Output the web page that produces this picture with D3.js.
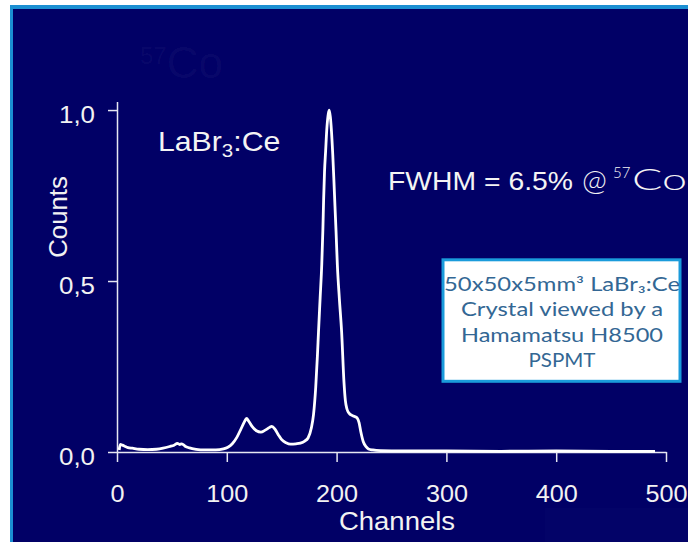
<!DOCTYPE html>
<html>
<head>
<meta charset="utf-8">
<script src="https://cdn.jsdelivr.net/npm/d3@7"></script>
<style>
  html, body { margin: 0; padding: 0; background: #ffffff; }
  svg { display: block; }
</style>
</head>
<body>
<div id="chart"></div>
<script>
// spectrum (channel, normalised counts)
var channels = [2, 3, 5, 7, 10, 14, 20, 28, 36, 42, 48, 52, 55, 57, 59, 62, 66, 72, 80, 90,
    97, 101, 105, 109, 113, 116, 118, 120, 123, 127, 131, 135, 139, 141, 144, 147, 150, 154, 158, 163,
    167, 171, 174, 177, 179, 181, 182.5, 183.5, 185, 186.5, 187.5, 188.2, 189, 190, 191, 192.5, 193.3, 194.3, 195.3, 196.5,
    197.6, 198.5, 199.5, 200.7, 202.5, 204.6, 206.7, 208, 209.5, 211.5, 214, 217, 219, 220.5, 222, 224.3, 227, 229, 233, 240,
    260, 300, 350, 400, 450, 490];
var counts = [0.006, 0.022, 0.02, 0.017, 0.013, 0.011, 0.008, 0.007, 0.008, 0.011, 0.016, 0.02, 0.025, 0.022, 0.024, 0.017, 0.012, 0.008, 0.006, 0.006,
    0.009, 0.014, 0.024, 0.042, 0.068, 0.088, 0.098, 0.09, 0.075, 0.062, 0.058, 0.064, 0.072, 0.075, 0.066, 0.05, 0.036, 0.027, 0.023, 0.024,
    0.026, 0.032, 0.041, 0.07, 0.11, 0.19, 0.28, 0.35, 0.45, 0.55, 0.65, 0.74, 0.82, 0.88, 0.94, 0.99, 1.0, 0.98, 0.94, 0.87,
    0.79, 0.72, 0.645, 0.546, 0.449, 0.35, 0.205, 0.15, 0.125, 0.113, 0.107, 0.103, 0.098, 0.085, 0.06, 0.03, 0.015, 0.009, 0.006, 0.004,
    0.003, 0.003, 0.002, 0.003, 0.002, 0.002];
var xTicks = [0, 100, 200, 300, 400, 500];
var yTicks = [0, 0.5, 1.0];
var boxLines = ["50x50x5mm³ LaBr₃:Ce", "Crystal viewed by a", "Hamamatsu H8500", "PSPMT"];

var W = 688, H = 542;
var navy = "#010066";
var frameBlue = "#1b8fd2";
var axisFont = "'Liberation Sans', Arial, sans-serif";
var slideFont = "Lato, 'Open Sans', sans-serif";

var svg = d3.select("#chart")
    .append("svg")
    .attr("width", W)
    .attr("height", H);

// slide frame + background
svg.append("rect").attr("x", 10).attr("y", 5).attr("width", W - 10).attr("height", H - 5).attr("fill", frameBlue);
svg.append("rect").attr("x", 13).attr("y", 9).attr("width", W - 13).attr("height", H - 9).attr("fill", navy);
svg.append("rect").attr("x", 545).attr("y", 508).attr("width", W - 545).attr("height", H - 508).attr("fill", "#030368");

// very faint watermark at the top
var wm = svg.append("text").attr("x", 140).attr("y", 78)
    .attr("font-family", axisFont).attr("fill", "#ffffff").attr("fill-opacity", 0.04);
wm.append("tspan").attr("font-size", 24).attr("dy", -14).text("57");
wm.append("tspan").attr("font-size", 44).attr("dy", 14).text("Co");

// stretch a text horizontally without moving its anchor
function stretch(sel, sx) {
    sel.each(function() {
        var t = d3.select(this);
        var x = +t.attr("x") || 0;
        t.attr("x", x / sx).attr("transform", "scale(" + sx + ",1)");
    });
}

// scales
var x = d3.scaleLinear().domain([0, 500]).range([117, 666]);
var y = d3.scaleLinear().domain([0, 1.025]).range([452, 101.5]);

// x axis
var gx = svg.append("g")
    .attr("transform", "translate(0," + y(0) + ")")
    .call(d3.axisBottom(x).tickValues(xTicks).tickSize(10).tickSizeOuter(0).tickFormat(d3.format("d")));
gx.select(".domain").attr("stroke", "#e6e6f2").attr("stroke-width", 1.5);
gx.selectAll(".tick line").attr("stroke", "#e6e6f2").attr("stroke-width", 1.5);
gx.selectAll(".tick text")
    .attr("fill", "#f2f2f2").attr("font-size", 24).attr("font-family", axisFont)
    .attr("y", 50).attr("dy", null);
stretch(gx.selectAll(".tick text"), 1.05);

// y axis
var gy = svg.append("g")
    .attr("transform", "translate(" + x(0) + ",0)")
    .call(d3.axisLeft(y).tickValues(yTicks).tickSize(9).tickSizeOuter(0)
        .tickFormat(function(d) { return d.toFixed(1).replace(".", ","); }));
gy.select(".domain").attr("stroke", "#e6e6f2").attr("stroke-width", 1.5);
gy.selectAll(".tick line").attr("stroke", "#e6e6f2").attr("stroke-width", 1.5);
gy.selectAll(".tick text")
    .attr("fill", "#f2f2f2").attr("font-size", 24).attr("font-family", axisFont)
    .attr("x", -22).attr("y", 12).attr("dy", null);
stretch(gy.selectAll(".tick text"), 1.08);

// axis titles
svg.append("text")
    .attr("x", 397).attr("y", 530)
    .attr("text-anchor", "middle")
    .attr("font-family", axisFont).attr("font-size", 25).attr("fill", "#f2f2f2")
    .call(stretch, 1.1)
    .text("Channels");

svg.append("text")
    .attr("transform", "translate(67,217) rotate(-90) scale(1.03,1.06)")
    .attr("text-anchor", "middle")
    .attr("font-family", axisFont).attr("font-size", 25).attr("fill", "#f2f2f2")
    .text("Counts");

// the spectrum
var line = d3.line()
    .curve(d3.curveMonotoneX)
    .x(function(d, i) { return x(channels[i]); })
    .y(function(d) { return y(d); });

svg.append("path")
    .datum(counts)
    .attr("fill", "none")
    .attr("stroke", "#ffffff")
    .attr("stroke-width", 2.8)
    .attr("stroke-linejoin", "round")
    .attr("d", line);

// labels on the plot
var lab = svg.append("text")
    .attr("x", 158).attr("y", 151)
    .attr("font-family", axisFont).attr("font-size", 28).attr("fill", "#f4f4f4");
lab.append("tspan").text("LaBr");
lab.append("tspan").attr("font-size", 19).attr("dy", 6).text("3");
lab.append("tspan").attr("dy", -6).text(":Ce");
stretch(lab, 1.08);

svg.append("text")
    .attr("x", 388).attr("y", 190)
    .attr("font-family", axisFont).attr("font-size", 26).attr("fill", "#f4f4f4")
    .call(stretch, 1.09)
    .text("FWHM = 6.5%");

svg.append("text")
    .attr("x", 582).attr("y", 190)
    .attr("font-family", slideFont).attr("font-weight", 300).attr("font-size", 30).attr("fill", "#f4f4f4")
    .text("@");
svg.append("text")
    .attr("x", 613).attr("y", 178)
    .attr("font-family", slideFont).attr("font-weight", 300).attr("font-size", 15).attr("fill", "#f4f4f4")
    .text("57");
svg.append("text")
    .attr("x", 632).attr("y", 190)
    .attr("font-family", slideFont).attr("font-weight", 300).attr("font-size", 29).attr("fill", "#f4f4f4")
    .attr("textLength", 55).attr("lengthAdjust", "spacingAndGlyphs")
    .text("Co");

// caption box
svg.append("rect")
    .attr("x", 443).attr("y", 259.8)
    .attr("width", 237).attr("height", 121.5)
    .attr("fill", "#ffffff")
    .attr("stroke", "#1a9bdb").attr("stroke-width", 3);

var lineWidths = [236, 202, 202, 67];
svg.append("g").selectAll("text")
    .data(boxLines)
    .enter()
    .append("text")
    .attr("x", 562)
    .attr("y", function(d, i) { return 291 + i * 25.3; })
    .attr("text-anchor", "middle")
    .attr("font-family", slideFont).attr("font-weight", 400).attr("font-size", 18.5).attr("fill", "#336794")
    .attr("textLength", function(d, i) { return lineWidths[i]; })
    .attr("lengthAdjust", "spacingAndGlyphs")
    .text(function(d) { return d; });
</script>
</body>
</html>
